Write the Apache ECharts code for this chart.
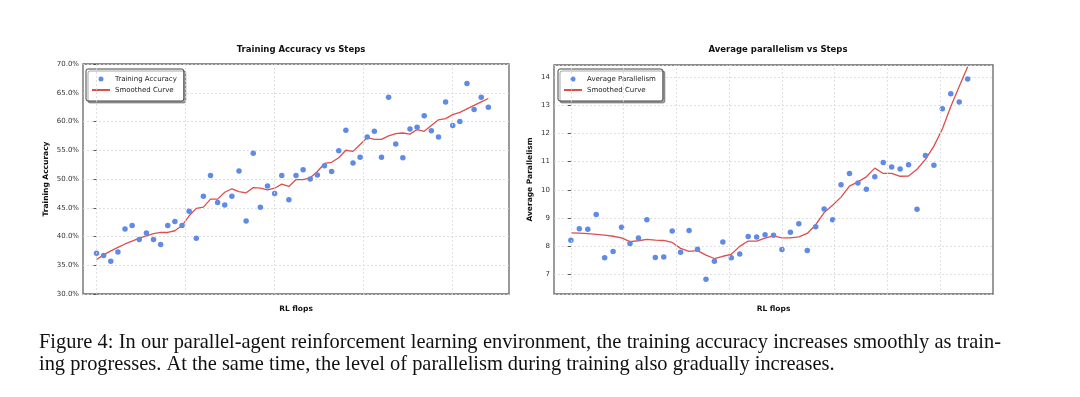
<!DOCTYPE html>
<html>
<head>
    <meta charset="utf-8">
    <title>Training accuracy / parallelism</title>
    <script src="https://cdn.jsdelivr.net/npm/echarts@6/dist/echarts.min.js"></script>
    <style>
        body { margin: 0; background: #fff; }
    </style>
</head>
<body>
<div id="main" style="width: 1080px;height:397px;"></div>
<script type="text/javascript">
    // training accuracy (%) per step
    var accuracy = [37.1, 36.7, 35.7, 37.3, 41.3, 41.9, 39.5, 40.6, 39.5, 38.6,
        41.9, 42.6, 41.9, 44.4, 39.7, 47.0, 50.6, 45.9, 45.5, 47.0,
        51.4, 42.7, 54.5, 45.1, 48.8, 47.5, 50.6, 46.4, 50.6, 51.6,
        50.0, 50.7, 52.3, 51.3, 54.9, 58.5, 52.8, 53.8, 57.3, 58.3,
        53.8, 64.2, 56.1, 53.7, 58.7, 59.0, 61.0, 58.4, 57.3, 63.4,
        59.3, 60.0, 66.6, 62.1, 64.2, 62.5];
    var accuracySmooth = [36.0, 36.8, 37.5, 38.1, 38.7, 39.2, 39.7, 40.1, 40.5, 40.7,
        40.7, 41.0, 41.9, 43.6, 44.9, 45.1, 46.5, 46.5, 47.7, 48.3,
        47.8, 47.6, 48.5, 48.4, 48.1, 48.4, 49.1, 48.7, 49.9, 49.9,
        50.2, 51.3, 52.7, 52.9, 53.7, 55.0, 54.8, 56.0, 57.2, 56.9,
        56.9, 57.5, 57.9, 58.0, 57.8, 58.6, 58.3, 59.3, 60.3, 60.5,
        61.2, 61.6, 62.2, 62.8, 63.4, 64.0];
    // average parallelism per step
    var parallelism = [8.21, 8.62, 8.60, 9.12, 7.59, 7.81, 8.67, 8.09, 8.29, 8.94,
        7.60, 7.61, 8.54, 7.78, 8.55, 7.89, 6.82, 7.46, 8.15, 7.59,
        7.72, 8.34, 8.32, 8.40, 8.39, 7.88, 8.49, 8.79, 7.84, 8.69,
        9.32, 8.94, 10.18, 10.58, 10.24, 10.02, 10.46, 10.97, 10.81, 10.74,
        10.89, 9.31, 11.22, 10.87, 12.88, 13.41, 13.12, 13.93];
    var parallelismSmooth = [8.47, 8.46, 8.44, 8.42, 8.39, 8.35, 8.29, 8.16, 8.19, 8.24,
        8.21, 8.20, 8.13, 7.92, 7.81, 7.84, 7.68, 7.56, 7.64, 7.71,
        7.99, 8.18, 8.18, 8.28, 8.36, 8.29, 8.29, 8.33, 8.45, 8.76,
        9.19, 9.45, 9.74, 10.13, 10.28, 10.46, 10.77, 10.58, 10.58, 10.48,
        10.49, 10.73, 11.08, 11.55, 12.16, 12.96, 13.67, 14.37];
    // vertical grid positions (x axis has no labels)
    var xGridLeft = [0, 12.5, 25, 37.5, 50];
    var xGridRight = [0, 6.25, 12.5, 18.75, 25, 31.25, 37.5, 43.75];

    var captionLine1 = 'Figure 4: In our parallel-agent reinforcement learning environment, the training accuracy increases smoothly as train-';
    var captionLine2 = 'ing progresses. At the same time, the level of parallelism during training also gradually increases.';

    var BLUE = '#5f8be6';
    var RED = '#dc4f4f';
    var FONT = 'DejaVu Sans';

    function toPairs(arr) {
        return arr.map(function (v, i) { return [i, v]; });
    }
    function gridMarks(xs) {
        return {
            silent: true,
            symbol: ['none', 'none'],
            label: { show: false },
            lineStyle: { color: '#d8d8d8', type: [2, 2], width: 0.8 },
            data: xs.map(function (x) { return { xAxis: x }; })
        };
    }

    // justified first caption line: spread words over the full width
    var capFont = '20.4px "Liberation Serif"';
    var ctx = document.createElement('canvas').getContext('2d');
    ctx.font = capFont;
    var words = captionLine1.split(' ');
    var wordsW = 0;
    words.forEach(function (w) { wordsW += ctx.measureText(w).width; });
    var gap = (962 - wordsW) / (words.length - 1);
    var captionEls = [];
    var cx = 39;
    words.forEach(function (w) {
        captionEls.push({ type: 'text', x: cx, y: 343,
            style: { text: w, font: capFont, fill: '#111', textVerticalAlign: 'middle' } });
        cx += ctx.measureText(w).width + gap;
    });
    captionEls.push({ type: 'text', x: 39, y: 365,
        style: { text: captionLine2, font: capFont, fill: '#111', textVerticalAlign: 'middle' } });

    var myChart = echarts.init(document.getElementById('main'));

    var tickLabel = { fontFamily: FONT, fontSize: 7, color: '#333', margin: 4 };
    var splitLn = { show: true, lineStyle: { color: '#d8d8d8', type: [2, 2], width: 0.8 } };
    var tick = { show: true, length: 3, lineStyle: { color: '#555' } };
    var nameStyle = { fontFamily: FONT, fontSize: 7.5, fontWeight: 'bold', color: '#111' };
    var legendBase = {
        orient: 'vertical',
        itemWidth: 18,
        itemHeight: 5,
        itemGap: 1,
        padding: [5, 7, 6, 5],
        backgroundColor: '#fff',
        borderColor: '#444',
        borderWidth: 1,
        borderRadius: 2,
        shadowColor: 'rgba(0,0,0,0.35)',
        shadowOffsetX: 2,
        shadowOffsetY: 2,
        textStyle: { fontFamily: FONT, fontSize: 7, color: '#222', lineHeight: 10 }
    };
    // line entry: hide the marker, keep only the line
    var curveEntry = { name: 'Smoothed Curve', itemStyle: { opacity: 0 } };

    var option = {
        animation: false,
        backgroundColor: '#fff',
        title: [
            { text: 'Training Accuracy vs Steps', left: 296, top: 40, textAlign: 'center',
                textStyle: { fontFamily: FONT, fontSize: 8.5, fontWeight: 'bold', color: '#111' } },
            { text: 'Average parallelism vs Steps', left: 773, top: 40, textAlign: 'center',
                textStyle: { fontFamily: FONT, fontSize: 8.5, fontWeight: 'bold', color: '#111' } }
        ],
        legend: [
            Object.assign({}, legendBase, { left: 86, top: 69,
                data: [{ name: 'Training Accuracy', icon: 'circle' }, curveEntry] }),
            Object.assign({}, legendBase, { left: 558, top: 69,
                data: [{ name: 'Average Parallelism', icon: 'circle' }, curveEntry] })
        ],
        grid: [
            { left: 83, top: 64, width: 426, height: 230, show: true, borderColor: '#666', borderWidth: 1.3 },
            { left: 554, top: 65, width: 439, height: 229, show: true, borderColor: '#666', borderWidth: 1.3 }
        ],
        xAxis: [
            { type: 'value', gridIndex: 0, min: -1.9, max: 57.9,
                name: 'RL flops', nameLocation: 'middle', nameGap: 11, nameTextStyle: nameStyle,
                axisLine: { show: false }, axisTick: { show: false }, axisLabel: { show: false },
                splitLine: { show: false } },
            { type: 'value', gridIndex: 1, min: -2, max: 50,
                name: 'RL flops', nameLocation: 'middle', nameGap: 11, nameTextStyle: nameStyle,
                axisLine: { show: false }, axisTick: { show: false }, axisLabel: { show: false },
                splitLine: { show: false } }
        ],
        yAxis: [
            { type: 'value', gridIndex: 0, min: 30, max: 70, interval: 5,
                name: 'Training Accuracy', nameLocation: 'middle', nameGap: 33, nameTextStyle: nameStyle,
                axisLine: { show: false }, axisTick: tick,
                axisLabel: Object.assign({}, tickLabel, { formatter: function (v) { return v.toFixed(1) + '%'; } }),
                splitLine: splitLn },
            { type: 'value', gridIndex: 1, min: 6.3, max: 14.43, splitNumber: 8,
                name: 'Average Parallelism', nameLocation: 'middle', nameGap: 20, nameTextStyle: nameStyle,
                axisLine: { show: false }, axisTick: tick,
                axisLabel: Object.assign({}, tickLabel, { showMinLabel: false, showMaxLabel: false }),
                splitLine: splitLn }
        ],
        series: [
            { name: 'Smoothed Curve', type: 'line', xAxisIndex: 0, yAxisIndex: 0, z: 2,
                symbol: 'none', data: toPairs(accuracySmooth),
                lineStyle: { color: RED, width: 1.3 }, itemStyle: { color: RED },
                markLine: gridMarks(xGridLeft) },
            { name: 'Training Accuracy', type: 'scatter', xAxisIndex: 0, yAxisIndex: 0, z: 3,
                symbolSize: 5.5, data: toPairs(accuracy), itemStyle: { color: BLUE, opacity: 1 } },
            { name: 'Smoothed Curve', type: 'line', xAxisIndex: 1, yAxisIndex: 1, z: 2,
                symbol: 'none', data: toPairs(parallelismSmooth),
                lineStyle: { color: RED, width: 1.3 }, itemStyle: { color: RED },
                markLine: gridMarks(xGridRight) },
            { name: 'Average Parallelism', type: 'scatter', xAxisIndex: 1, yAxisIndex: 1, z: 3,
                symbolSize: 5.5, data: toPairs(parallelism), itemStyle: { color: BLUE, opacity: 1 } }
        ],
        graphic: captionEls
    };

    myChart.setOption(option);
</script>
</body>
</html>
